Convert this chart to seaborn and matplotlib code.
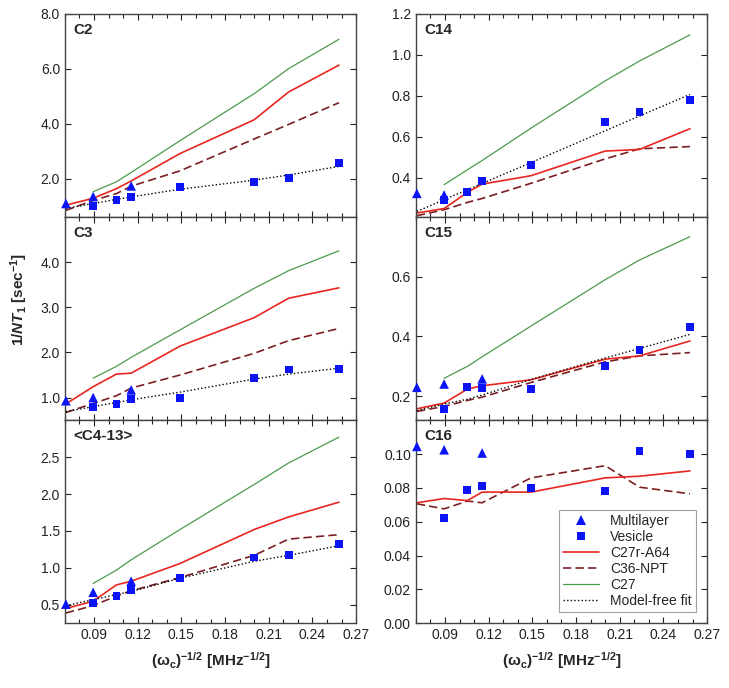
import numpy as np
import matplotlib
matplotlib.use("Agg")
import matplotlib.pyplot as plt
from matplotlib.ticker import MultipleLocator, FormatStrFormatter
from matplotlib.lines import Line2D
import seaborn as sns

sns.set_style("ticks")
plt.rcParams['font.family'] = ['Liberation Sans', 'DejaVu Sans']
plt.rcParams['mathtext.fontset'] = 'custom'
plt.rcParams['mathtext.rm'] = 'Liberation Sans:bold'
plt.rcParams['mathtext.it'] = 'Liberation Sans:italic:bold'
plt.rcParams['mathtext.bf'] = 'Liberation Sans:bold'

nan = np.nan

# x = (omega_c)^-1/2 [MHz^-1/2]
x_sim = [0.0707, 0.0894, 0.1054, 0.1155, 0.1491, 0.2000, 0.2236, 0.2582]
x_vesicle = [0.0894, 0.1054, 0.1155, 0.1491, 0.2000, 0.2236, 0.2582]
x_multilayer = [0.0707, 0.0894, 0.1155]

# C2
c2_multilayer = [1.09, 1.34, 1.73]
c2_vesicle = [0.99, 1.22, 1.34, 1.70, 1.86, 2.02, 2.57]
c2_c27r = [1.03, 1.28, 1.63, 1.91, 2.91, 4.14, 5.15, 6.13]
c2_c36 = [0.84, 1.20, 1.45, 1.72, 2.28, 3.44, 3.97, 4.76]
c2_c27 = [nan, 1.52, 1.88, 2.22, 3.38, 5.09, 6.00, 7.07]
c2_fit = [0.91, 1.09, 1.24, 1.33, 1.61, 1.94, 2.13, 2.44]

# C14
c14_multilayer = [0.325, 0.317, nan]
c14_vesicle = [0.292, 0.330, 0.387, 0.464, 0.671, 0.722, 0.779]
c14_c27r = [0.229, 0.251, 0.330, 0.370, 0.411, 0.531, 0.539, 0.640]
c14_c36 = [0.216, 0.245, 0.281, 0.300, 0.374, 0.493, 0.542, 0.553]
c14_c27 = [nan, 0.367, 0.440, 0.485, 0.643, 0.873, 0.970, 1.097]
c14_fit = [0.237, 0.294, 0.343, 0.373, 0.475, 0.630, 0.702, 0.807]

# C3
c3_multilayer = [0.93, 1.00, 1.17]
c3_vesicle = [0.80, 0.86, 0.97, 0.99, 1.44, 1.62, 1.64]
c3_c27r = [0.86, 1.24, 1.52, 1.54, 2.14, 2.77, 3.20, 3.43]
c3_c36 = [0.67, 0.87, 1.04, 1.21, 1.50, 1.98, 2.26, 2.53]
c3_c27 = [nan, 1.43, 1.69, 1.89, 2.50, 3.42, 3.81, 4.25]
c3_fit = [0.69, 0.80, 0.89, 0.95, 1.12, 1.41, 1.52, 1.65]

# C15
c15_multilayer = [0.230, 0.241, 0.258]
c15_vesicle = [0.156, 0.230, 0.228, 0.224, 0.300, 0.355, 0.433]
c15_c27r = [0.158, 0.177, 0.224, 0.235, 0.255, 0.324, 0.335, 0.385]
c15_c36 = [0.149, 0.166, 0.186, 0.197, 0.246, 0.315, 0.335, 0.346]
c15_c27 = [nan, 0.260, 0.300, 0.332, 0.435, 0.590, 0.656, 0.734]
c15_fit = [0.152, 0.174, 0.190, 0.204, 0.256, 0.328, 0.360, 0.407]

# <C4-13>
c413_multilayer = [0.51, 0.67, 0.82]
c413_vesicle = [0.53, 0.62, 0.70, 0.86, 1.14, 1.17, 1.32]
c413_c27r = [0.45, 0.55, 0.77, 0.82, 1.06, 1.52, 1.69, 1.89]
c413_c36 = [0.39, 0.49, 0.62, 0.69, 0.87, 1.17, 1.39, 1.45]
c413_c27 = [nan, 0.79, 0.97, 1.11, 1.52, 2.13, 2.42, 2.77]
c413_fit = [0.49, 0.57, 0.64, 0.68, 0.86, 1.09, 1.17, 1.30]

# C16 (C27 and fit are off scale)
c16_multilayer = [0.1045, 0.1025, 0.1006]
c16_vesicle = [0.0620, 0.0786, 0.0810, 0.0800, 0.0780, 0.1016, 0.1000]
c16_c27r = [0.0712, 0.0737, 0.0725, 0.0775, 0.0775, 0.0859, 0.0869, 0.0900]
c16_c36 = [0.0706, 0.0676, 0.0722, 0.0712, 0.0859, 0.0931, 0.0804, 0.0765]
c16_c27 = [nan] * 8
c16_fit = [nan] * 8

panels = [
    ("C2", c2_multilayer, c2_vesicle, c2_c27r, c2_c36, c2_c27, c2_fit,
     (0.6, 8.0), [2.0, 4.0, 6.0, 8.0], "%.1f"),
    ("C14", c14_multilayer, c14_vesicle, c14_c27r, c14_c36, c14_c27, c14_fit,
     (0.21, 1.2), [0.4, 0.6, 0.8, 1.0, 1.2], "%.1f"),
    ("C3", c3_multilayer, c3_vesicle, c3_c27r, c3_c36, c3_c27, c3_fit,
     (0.5, 5.0), [1.0, 2.0, 3.0, 4.0], "%.1f"),
    ("C15", c15_multilayer, c15_vesicle, c15_c27r, c15_c36, c15_c27, c15_fit,
     (0.12, 0.8), [0.2, 0.4, 0.6], "%.1f"),
    ("<C4-13>", c413_multilayer, c413_vesicle, c413_c27r, c413_c36, c413_c27, c413_fit,
     (0.25, 3.0), [0.5, 1.0, 1.5, 2.0, 2.5], "%.1f"),
    ("C16", c16_multilayer, c16_vesicle, c16_c27r, c16_c36, c16_c27, c16_fit,
     (0.0, 0.12), [0.0, 0.02, 0.04, 0.06, 0.08, 0.10], "%.2f"),
]

blue = "#0a14f5"
red = "#e8261f"
maroon = "#7a1f22"
green = "#4c9a4c"

fig, axes = plt.subplots(3, 2, figsize=(7.29, 6.88), dpi=100)
fig.subplots_adjust(left=0.089, right=0.97, top=0.98, bottom=0.094, wspace=0.205, hspace=0)

for ax, (name, ml, ves, c27r, c36, c27, fit, ylim, yticks, fmt) in zip(axes.flat, panels):
    sns.lineplot(x=x_sim, y=c27, ax=ax, color=green, linewidth=0.9)
    sns.lineplot(x=x_sim, y=c36, ax=ax, color=maroon, linewidth=1.2, dashes=False)
    ax.lines[-1].set_dashes((5, 2.5))
    sns.lineplot(x=x_sim, y=c27r, ax=ax, color=red, linewidth=1.2)
    sns.lineplot(x=x_sim, y=fit, ax=ax, color="black", linewidth=1.0)
    ax.lines[-1].set_linestyle((0, (1, 1.6)))
    sns.scatterplot(x=x_vesicle, y=ves, ax=ax, color=blue, marker="s", s=32,
                    edgecolor="none", zorder=5, clip_on=False)
    sns.scatterplot(x=x_multilayer, y=ml, ax=ax, color=blue, marker="^", s=48,
                    edgecolor="none", zorder=5, clip_on=False)

    ax.set_xlim(0.07, 0.27)
    ax.set_ylim(*ylim)
    ax.set_yticks(yticks)
    ax.yaxis.set_major_formatter(FormatStrFormatter(fmt))
    ax.set_xticks([0.09, 0.12, 0.15, 0.18, 0.21, 0.24, 0.27])
    ax.xaxis.set_minor_locator(MultipleLocator(0.01))
    ax.xaxis.set_major_formatter(FormatStrFormatter("%.2f"))
    ax.tick_params(which="both", direction="in", top=True, right=True,
                   labelsize=10, colors="#222222", width=0.8)
    ax.tick_params(which="major", length=4)
    ax.tick_params(which="minor", length=3)
    for sp in ax.spines.values():
        sp.set_color("#444444")
        sp.set_linewidth(1.0)
    ax.set_xlabel("")
    ax.set_ylabel("")
    ax.text(0.03, 0.955, name, transform=ax.transAxes, ha="left", va="top",
            fontsize=11, fontweight="bold")

for ax in axes[:2].flat:
    ax.tick_params(labelbottom=False)

for ax in axes[2]:
    ax.set_xlabel(r"($\mathrm{\omega_c}$)$^\mathrm{-1/2}$ [MHz$^\mathrm{-1/2}$]",
                  fontsize=11, fontweight="bold", labelpad=6)

fig.text(0.027, 0.565, r"1/$\mathit{NT}_\mathrm{1}$ [sec$^\mathrm{-1}$]",
         rotation=90, ha="center", va="center", fontsize=11, fontweight="bold")

handles = [
    Line2D([], [], color=blue, marker="^", linestyle="none", markersize=7, markeredgewidth=0),
    Line2D([], [], color=blue, marker="s", linestyle="none", markersize=5.5, markeredgewidth=0),
    Line2D([], [], color=red, linewidth=1.2),
    Line2D([], [], color=maroon, linewidth=1.2, dashes=(5, 2.5)),
    Line2D([], [], color=green, linewidth=0.9),
    Line2D([], [], color="black", linewidth=1.0, linestyle=(0, (1, 1.6))),
]
labels = ["Multilayer", "Vesicle", "C27r-A64", "C36-NPT", "C27", "Model-free fit"]
leg = axes[2, 1].legend(handles, labels, loc="lower right", fontsize=10,
                        frameon=True, fancybox=False, handlelength=2.6,
                        borderpad=0.3, labelspacing=0.15, handletextpad=0.8,
                        bbox_to_anchor=(0.985, 0.02))
leg.get_frame().set_edgecolor("#888888")
leg.get_frame().set_linewidth(0.8)

fig.savefig("out.png", dpi=100)
